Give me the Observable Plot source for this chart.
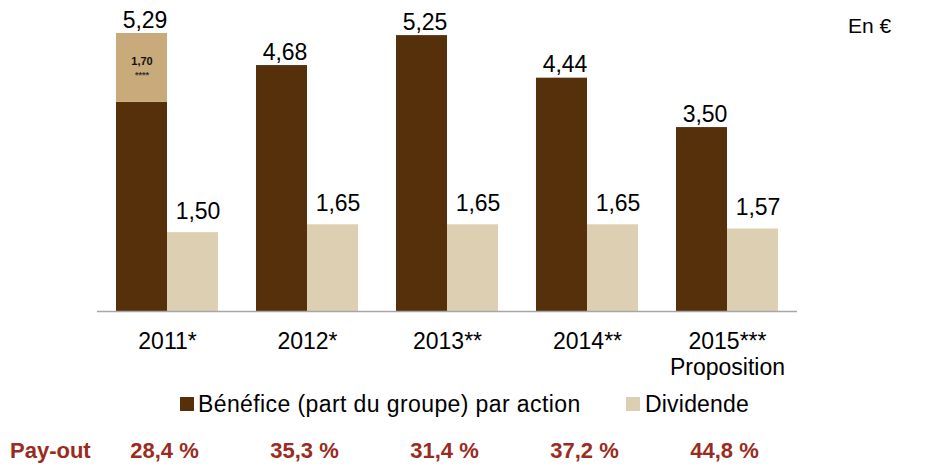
<!DOCTYPE html>
<html>
<head>
<meta charset="utf-8">
<script src="https://cdn.jsdelivr.net/npm/d3@7"></script>
<script src="https://cdn.jsdelivr.net/npm/@observablehq/plot@0.6"></script>
<style>
  body { margin: 0; background: #fff; }
  #wrap { position: relative; width: 941px; height: 466px; font-family: "Liberation Sans", Arial, sans-serif; }
  .ov { position: absolute; white-space: nowrap; line-height: 22px; }
  .sq { position: absolute; width: 14px; height: 14px; }
</style>
</head>
<body>
<div id="wrap"></div>
<script>
// ---- data ----
const years = ["2011*", "2012*", "2013**", "2014**", "2015***\nProposition"];
const benefice = [5.29, 4.68, 5.25, 4.44, 3.50];
const dividende = [1.50, 1.65, 1.65, 1.65, 1.57];
const payout = ["28,4 %", "35,3 %", "31,4 %", "37,2 %", "44,8 %"];
const seriesNames = ["Bénéfice (part du groupe) par action", "Dividende"];
const exceptionalLabel = "1,70";
const exceptionalStars = "****";
const exceptionalBase2011 = 3.98; // top of the recurring part of the 2011 bar
const unitLabel = "En €";
const payoutLabel = "Pay-out";

const colors = { courant: "#55300a", exceptionnel: "#c8aa7b", dividende: "#ddcfb1" };
const fmt = d => d.toFixed(2).replace(".", ",");

const barRows = [];
years.forEach((yr, i) => {
  if (i === 0) {
    barRows.push({ year: yr, s: "B", y1: 0, y2: exceptionalBase2011, part: "courant" });
    barRows.push({ year: yr, s: "B", y1: exceptionalBase2011, y2: benefice[i], part: "exceptionnel" });
  } else {
    barRows.push({ year: yr, s: "B", y1: 0, y2: benefice[i], part: "courant" });
  }
  barRows.push({ year: yr, s: "D", y1: 0, y2: dividende[i], part: "dividende" });
});
const benRows = years.map((yr, i) => ({ year: yr, s: "B", v: benefice[i] }));
const divRows = years.map((yr, i) => ({ year: yr, s: "D", v: dividende[i] }));
const payRows = years.map((yr, i) => ({ year: yr, p: payout[i] }));
const excRow = [{ year: years[0], s: "B", v: (exceptionalBase2011 + benefice[0]) / 2 }];

const chart = Plot.plot({
  width: 941,
  height: 466,
  marginLeft: 97,
  marginRight: 144,
  marginTop: 33,
  marginBottom: 155,
  style: { fontFamily: "'Liberation Sans', Arial, sans-serif", background: "transparent", overflow: "visible" },
  fx: { domain: years, padding: 0, axis: null },
  x: { domain: ["B", "D"], paddingInner: 0, paddingOuter: 0.37, axis: null },
  y: { domain: [0, 5.29], axis: null },
  color: { domain: Object.keys(colors), range: Object.values(colors) },
  marks: [
    Plot.barY(barRows, { fx: "year", x: "s", y1: "y1", y2: "y2", fill: "part", inset: 0 }),
    Plot.ruleY([0], { stroke: "#a6a6a6", strokeWidth: 1.5 }),
    Plot.text(benRows, { fx: "year", x: "s", y: "v", text: d => fmt(d.v), lineAnchor: "bottom", dy: -6, dx: 3, fontSize: 23, fill: "#000" }),
    Plot.text(divRows, { fx: "year", x: "s", y: "v", text: d => fmt(d.v), lineAnchor: "bottom", dy: -14, dx: 5, fontSize: 23, fill: "#000" }),
    Plot.text(excRow, { fx: "year", x: "s", y: "v", text: () => exceptionalLabel, dy: -6, fontSize: 11, fontWeight: "bold", fill: "#111" }),
    Plot.text(excRow, { fx: "year", x: "s", y: "v", text: () => exceptionalStars, dy: 7, fontSize: 9, fontWeight: "bold", fill: "#333" }),
    Plot.text(years, { fx: d => d, y: () => 0, text: d => d, lineAnchor: "top", dy: 20, fontSize: 23, lineHeight: 1.1, fill: "#000" }),
    Plot.text(payRows, { fx: "year", y: () => 0, text: "p", lineAnchor: "top", dy: 131, dx: -3, fontSize: 22, fontWeight: "bold", fill: "#9b2b20" })
  ]
});

const wrap = document.getElementById("wrap");
wrap.appendChild(chart);

function ov(text, left, top, css) {
  const d = document.createElement("div");
  d.className = "ov";
  d.textContent = text;
  d.style.left = left + "px";
  d.style.top = top + "px";
  Object.assign(d.style, css || {});
  wrap.appendChild(d);
}
function sq(color, left, top) {
  const d = document.createElement("div");
  d.className = "sq";
  d.style.left = left + "px";
  d.style.top = top + "px";
  d.style.background = color;
  wrap.appendChild(d);
}
// unit label
ov(unitLabel, 848, 15, { fontSize: "21px", color: "#000" });
// legend
sq(colors.courant, 180, 397);
ov(seriesNames[0], 198, 393, { fontSize: "23px", letterSpacing: "0.4px", color: "#000" });
sq(colors.dividende, 626, 397);
ov(seriesNames[1], 645, 393, { fontSize: "23px", letterSpacing: "0.2px", color: "#000" });
// pay-out row label
ov(payoutLabel, 10, 440, { fontSize: "22px", fontWeight: "bold", color: "#9b2b20" });
</script>
</body>
</html>
